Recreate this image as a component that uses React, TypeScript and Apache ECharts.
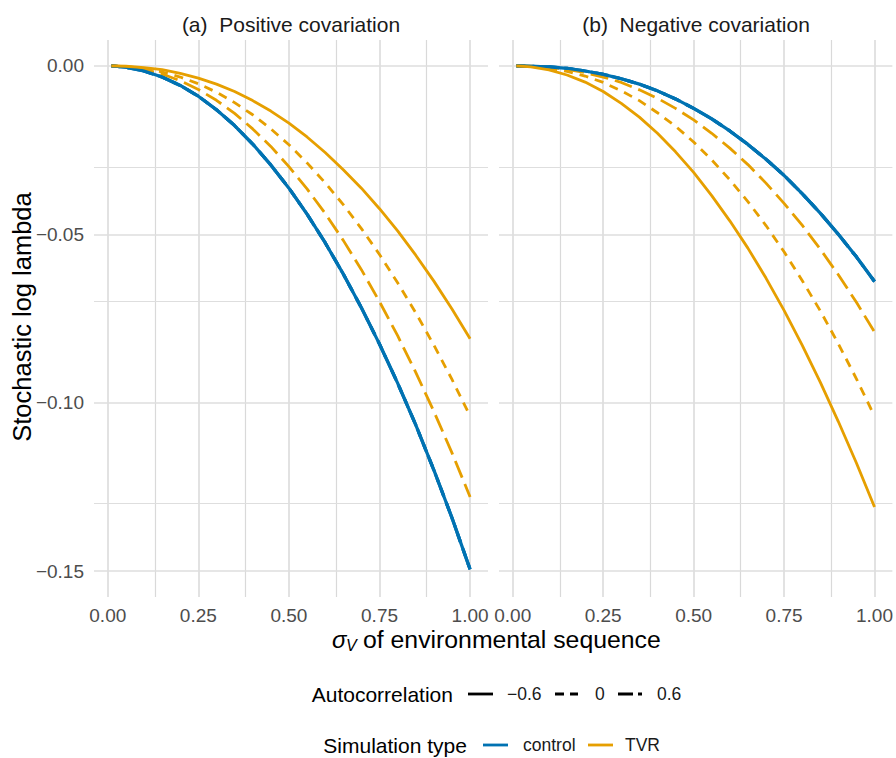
import { useEffect, useRef } from "react";
import * as echarts from "echarts";

// ---------- data ----------
const sigmaV = [0.01, 0.05, 0.1, 0.15, 0.2, 0.25, 0.3, 0.35, 0.4, 0.45, 0.5, 0.55, 0.6, 0.65, 0.7, 0.75, 0.8, 0.85, 0.9, 0.95, 1.0];
const panelTitles = ["(a)  Positive covariation", "(b)  Negative covariation"];
const autocorrelations = ["−0.6", "0", "0.6"];
const simulationTypes = ["control", "TVR"];
const xTicks = [0, 0.25, 0.5, 0.75, 1];
const yTicks = [0, -0.05, -0.1, -0.15];

// Panel (a) Positive covariation
const controlA = [0, -0.0004, -0.0015, -0.0033, -0.0058, -0.009, -0.013, -0.0177, -0.0232, -0.0294, -0.0363, -0.044, -0.0525, -0.0618, -0.0718, -0.0826, -0.0942, -0.1066, -0.12, -0.1342, -0.1495];
const tvrANeg = [0, -0.0001, -0.0005, -0.0011, -0.0022, -0.0036, -0.0054, -0.0076, -0.0103, -0.0134, -0.017, -0.0211, -0.0257, -0.0308, -0.0363, -0.0424, -0.049, -0.0562, -0.0639, -0.0722, -0.081];
const tvrAZero = [0, -0.0002, -0.0007, -0.0018, -0.0033, -0.0053, -0.0078, -0.0109, -0.0145, -0.0187, -0.0234, -0.0288, -0.0347, -0.0412, -0.0483, -0.056, -0.0644, -0.0733, -0.0829, -0.0931, -0.104];
const tvrAPos = [0, -0.0002, -0.001, -0.0024, -0.0044, -0.007, -0.0102, -0.0141, -0.0187, -0.0239, -0.0299, -0.0365, -0.0438, -0.0518, -0.0605, -0.07, -0.0801, -0.091, -0.1026, -0.1149, -0.128];

// Panel (b) Negative covariation
const controlB = [0, -0.0001, -0.0003, -0.0007, -0.0015, -0.0025, -0.0038, -0.0054, -0.0074, -0.0098, -0.0126, -0.0157, -0.0193, -0.0233, -0.0277, -0.0325, -0.0379, -0.0437, -0.05, -0.0567, -0.064];
const tvrBNeg = [0, -0.0003, -0.0012, -0.0027, -0.0048, -0.0076, -0.0111, -0.0152, -0.02, -0.0255, -0.0316, -0.0385, -0.046, -0.0541, -0.063, -0.0726, -0.0829, -0.0939, -0.1056, -0.1179, -0.131];
const tvrBZero = [0, -0.0001, -0.0007, -0.0016, -0.003, -0.0049, -0.0074, -0.0103, -0.0139, -0.0179, -0.0226, -0.0279, -0.0338, -0.0403, -0.0474, -0.0552, -0.0637, -0.0727, -0.0825, -0.0929, -0.104];
const tvrBPos = [0, -0.0001, -0.0004, -0.001, -0.002, -0.0033, -0.0049, -0.0071, -0.0096, -0.0126, -0.016, -0.02, -0.0244, -0.0293, -0.0348, -0.0408, -0.0473, -0.0544, -0.062, -0.0702, -0.079];

// [panel][simType][autocorrelation]
const seriesValues = [
  [
    [controlA, controlA, controlA],
    [tvrANeg, tvrAZero, tvrAPos],
  ],
  [
    [controlB, controlB, controlB],
    [tvrBNeg, tvrBZero, tvrBPos],
  ],
];

// ---------- styles ----------
const FONT = '"Liberation Sans", Arial, Helvetica, sans-serif';
const simColors = ["#0072B2", "#E69F00"];
const simWidths = [3.2, 2.8];
const dashFor = ["solid", [9, 7], [18, 7]];
const legendDash = [null, [9, 6], [15, 5]];
const LINE_W = 2.8;

const gridBoxes = [
  { left: 94, top: 40, width: 394, height: 557 },
  { left: 499, top: 40, width: 394, height: 557 },
];
const X_MIN = -0.038;
const X_MAX = 1.0494;
const Y_MIN = -0.1577;
const Y_MAX = 0.0077;

const xGridVals = [0, 0.125, 0.25, 0.375, 0.5, 0.625, 0.75, 0.875, 1];
const yGridVals = [0, -0.025, -0.05, -0.075, -0.1, -0.125, -0.15];

function fmtY(v: number) {
  if (Math.abs(v) < 1e-9) return "0.00";
  return (v < 0 ? "−" : "") + Math.abs(v).toFixed(2);
}

function txt(text: string, x: number, y: number, size: number, color: string, align = "left", extra: any = {}) {
  return {
    type: "text",
    x,
    y,
    silent: true,
    ...extra,
    style: {
      text,
      fill: color,
      fontSize: size,
      fontFamily: FONT,
      fontStyle: extra.fontStyle || "normal",
      align,
      verticalAlign: "middle",
      textAlign: align,
      textVerticalAlign: "middle",
    },
  };
}

function keyLine(x1: number, x2: number, y: number, color: string, dash: any) {
  return {
    type: "line",
    silent: true,
    shape: { x1, y1: y, x2, y2: y },
    style: { stroke: color, lineWidth: LINE_W, lineDash: dash || null, lineCap: "butt" },
  };
}

export default function App() {
  const ref = useRef<HTMLDivElement>(null);

  useEffect(() => {
    document.body.style.margin = "0";
    if (!ref.current) return;
    const chart = echarts.init(ref.current, undefined, { renderer: "svg" });

    const series: any[] = [];
    [0, 1].forEach((p) => {
      // grid lines series (drawn beneath the data)
      series.push({
        type: "line",
        name: "grid" + p,
        xAxisIndex: p,
        yAxisIndex: p,
        data: [],
        silent: true,
        markLine: {
          silent: true,
          z: 1,
          symbol: ["none", "none"],
          label: { show: false },
          emphasis: { disabled: true },
          animation: false,
          data: [
            ...xGridVals.map((v) => ({
              xAxis: v,
              lineStyle: { type: "solid", color: "#D9D9D9", width: v % 0.25 === 0 ? 1.5 : 1.2 },
            })),
            ...yGridVals.map((v) => ({
              yAxis: v,
              lineStyle: { type: "solid", color: "#DEDEDE", width: Math.abs(v * 1000) % 50 < 1e-6 ? 1.5 : 1.2 },
            })),
          ],
        },
      });
      simulationTypes.forEach((sim, s) => {
        autocorrelations.forEach((ac, a) => {
          const vals = seriesValues[p][s][a];
          series.push({
            type: "line",
            name: sim + " " + ac,
            xAxisIndex: p,
            yAxisIndex: p,
            z: 3 + (a === 0 ? 1 : 0),
            showSymbol: false,
            symbol: "none",
            silent: true,
            data: sigmaV.map((x, i) => [x, vals[i]]),
            lineStyle: { color: simColors[s], width: simWidths[s], type: dashFor[a] as any, cap: "butt" },
          });
        });
      });
    });

    const graphic: any[] = [
      txt(panelTitles[0], gridBoxes[0].left + gridBoxes[0].width / 2, 24, 21, "#1A1A1A", "center"),
      txt(panelTitles[1], gridBoxes[1].left + gridBoxes[1].width / 2, 24, 21, "#1A1A1A", "center"),
      // y axis title
      txt("Stochastic log lambda", 22, 317, 25.5, "#000000", "center", { rotation: Math.PI / 2 }),
      // x axis title
      txt("σ", 332, 639, 24, "#000000", "left", { fontStyle: "italic" }),
      txt("V", 346, 645, 16, "#000000", "left", { fontStyle: "italic" }),
      txt("of environmental sequence", 363, 639, 24.8, "#000000", "left"),
      // legend 1
      txt("Autocorrelation", 311.7, 694, 21, "#000000", "left"),
      keyLine(468, 493, 694, "#000000", legendDash[0]),
      txt(autocorrelations[0], 507, 694, 17.5, "#1A1A1A", "left"),
      keyLine(555, 578, 694, "#000000", legendDash[1]),
      txt(autocorrelations[1], 595, 694, 17.5, "#1A1A1A", "left"),
      keyLine(618, 642, 694, "#000000", legendDash[2]),
      txt(autocorrelations[2], 657, 694, 17.5, "#1A1A1A", "left"),
      // legend 2
      txt("Simulation type", 323.3, 745, 21, "#000000", "left"),
      keyLine(483, 508, 745, simColors[0], null),
      txt(simulationTypes[0], 523, 745, 17.5, "#1A1A1A", "left"),
      keyLine(588, 613, 745, simColors[1], null),
      txt(simulationTypes[1], 625, 745, 17.5, "#1A1A1A", "left"),
    ];

    const option: any = {
      animation: false,
      backgroundColor: "#FFFFFF",
      textStyle: { fontFamily: FONT },
      grid: gridBoxes.map((g) => ({ ...g, containLabel: false })),
      xAxis: [0, 1].map((p) => ({
        type: "value",
        gridIndex: p,
        min: X_MIN,
        max: X_MAX,
        axisLine: { show: false, onZero: false },
        axisTick: { show: false },
        splitLine: { show: false },
        axisLabel: {
          customValues: xTicks,
          formatter: (v: number) => v.toFixed(2),
          color: "#4D4D4D",
          fontSize: 19,
          fontFamily: FONT,
          margin: 9,
          hideOverlap: false,
        },
      })),
      yAxis: [0, 1].map((p) => ({
        type: "value",
        gridIndex: p,
        min: Y_MIN,
        max: Y_MAX,
        axisLine: { show: false, onZero: false },
        axisTick: { show: false },
        splitLine: { show: false },
        axisLabel: {
          show: p === 0,
          customValues: yTicks,
          formatter: fmtY,
          color: "#4D4D4D",
          fontSize: 19,
          fontFamily: FONT,
          margin: 10,
        },
      })),
      series,
      graphic,
    };

    chart.setOption(option);
    return () => chart.dispose();
  }, []);

  return <div ref={ref} style={{ width: 896, height: 758 }} />;
}
